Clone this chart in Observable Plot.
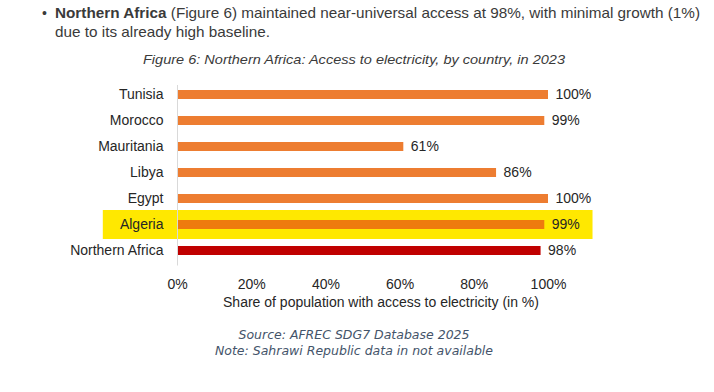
<!DOCTYPE html>
<html>
<head>
<meta charset="utf-8">
<script src="https://cdn.jsdelivr.net/npm/d3@7"></script>
<script src="https://cdn.jsdelivr.net/npm/@observablehq/plot@0.6"></script>
<style>
  html, body { margin: 0; padding: 0; background: #ffffff; }
  body { width: 714px; height: 392px; position: relative; overflow: hidden; }
  .narrow { font-family: "Liberation Sans Narrow", "Arial Narrow", "Liberation Sans", Arial, sans-serif; }
  #bullet { position: absolute; left: 42px; top: 5px; font-size: 14px; color: #3a3a3a; }
  .hline { position: absolute; left: 55px; font-size: 15px; color: #3a3a3a; white-space: nowrap; transform-origin: 0 0; display: inline-block; }
  #l1 { top: 4px; }
  #l2 { top: 23px; }
  #caption { position: absolute; top: 52px; font-size: 13.5px; font-style: italic; color: #3a3a3a; white-space: nowrap; display: inline-block; transform-origin: 0 0; }
  #chart { position: absolute; left: 0; top: 75px; }
  #source { position: absolute; left: 0; width: 708px; top: 327px; text-align: center; font-family: "DejaVu Sans", sans-serif; font-style: italic; font-size: 12.5px; line-height: 16px; color: #44546A; }
</style>
</head>
<body>
<div id="bullet" class="narrow">•</div>
<div id="l1" class="hline narrow"><b>Northern Africa</b> (Figure 6) maintained near-universal access at 98%, with minimal growth (1%)</div>
<div id="l2" class="hline narrow">due to its already high baseline.</div>
<div id="caption" class="narrow">Figure 6: Northern Africa: Access to electricity, by country, in 2023</div>
<div id="chart"></div>
<div id="source">Source: AFREC SDG7 Database 2025<br>Note: Sahrawi Republic data in not available</div>
<script>
// ---- data ----
const categories = ["Tunisia", "Morocco", "Mauritania", "Libya", "Egypt", "Algeria", "Northern Africa"];
const values = [100, 99, 61, 86, 100, 99, 98];
const xTicks = [0, 20, 40, 60, 80, 100];
const highlighted = "Algeria";
const aggregate = "Northern Africa";
const highlightSpan = [-20, 112];
const xTitle = "Share of population with access to electricity (in %)";

const rows = categories.map((c, i) => ({country: c, value: values[i]}));

// ---- header fitting ----
function fitWidth(el, target) {
  const w = el.getBoundingClientRect().width;
  const s = target / w;
  el.style.transform = `scaleX(${s})`;
  return s;
}
const s1 = fitWidth(document.getElementById("l1"), 645);
document.getElementById("l2").style.transform = `scaleX(${s1})`;
const cap = document.getElementById("caption");
const cw = cap.getBoundingClientRect().width;
const cs = 422 / cw;
cap.style.transform = `scaleX(${cs})`;
cap.style.left = (354 - 211) + "px";

// ---- chart ----
const barColor = d => d.country === highlighted ? "#EE7B0E" : d.country === aggregate ? "#C00000" : "#ED7D31";
const fs = 14;

const chart = Plot.plot({
  width: 714,
  height: 241,
  marginTop: 10,
  marginBottom: 55,
  marginLeft: 177,
  marginRight: 166,
  style: {fontFamily: "'Liberation Sans', Arial, sans-serif", fontSize: "14px", color: "#262626", background: "transparent", overflow: "visible"},
  x: {domain: [0, 100]},
  y: {domain: categories, paddingInner: 0.65, paddingOuter: 0.19},
  marks: [
    Plot.barX([highlighted], {x1: highlightSpan[0], x2: highlightSpan[1], y: d => d, fill: "#FFE800", insetTop: -10, insetBottom: -10}),
    Plot.barX(rows, {x: "value", y: "country", fill: barColor}),
    Plot.ruleX([0], {stroke: "#D9D9D9", strokeWidth: 1, insetBottom: -4.5}),
    Plot.text(rows, {x: "value", y: "country", text: d => d.value + "%", textAnchor: "start", dx: 7, fill: "#262626", fontSize: fs}),
    Plot.axisY({tickSize: 0, tickPadding: 14, label: null, fill: "#262626", fontSize: fs}),
    Plot.axisX({ticks: xTicks, tickFormat: d => d + "%", tickSize: 0, tickPadding: 18, label: null, fill: "#262626", fontSize: fs}),
    Plot.text([xTitle], {frameAnchor: "bottom", dy: 45, dx: 18, text: d => d, fill: "#262626", fontSize: fs})
  ]
});
document.getElementById("chart").appendChild(chart);
</script>
</body>
</html>
